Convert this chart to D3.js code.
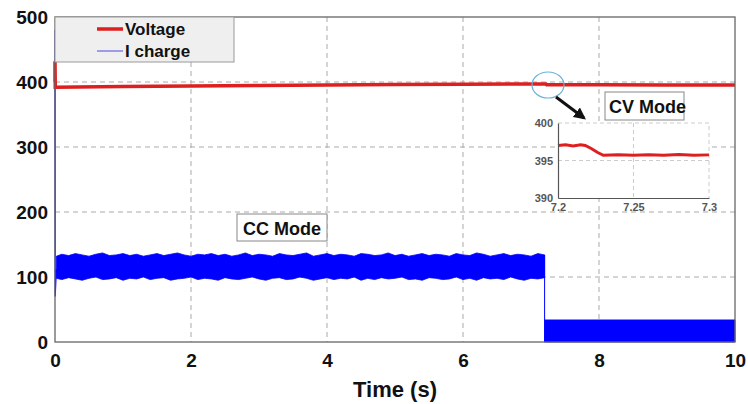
<!DOCTYPE html>
<html>
<head>
<meta charset="utf-8">
<script src="https://cdn.jsdelivr.net/npm/d3@7/dist/d3.min.js"></script>
<style>
  body { margin: 0; background: #fff; }
  svg text { font-family: "Liberation Sans", Arial, sans-serif; font-weight: bold; }
</style>
</head>
<body>
<script>
// values
var xTicks = [0, 2, 4, 6, 8, 10];
var yTicks = [0, 100, 200, 300, 400, 500];

// charging voltage (V)
var voltTime = [0, 0, 0.004, 1, 2, 3, 4, 5, 6, 7, 7.2, 7.22, 7.23, 8, 9, 10];
var voltValue = [400, 432, 392, 393, 394, 394.8, 395.5, 396, 396.5, 397, 397, 397, 395.7, 395.6, 395.5, 395.5];

// charging current, start-up transient
var curStartTime = [0, 0.003, 0.02];
var curStartValue = [480, 70, 112];

// CC mode ripple band (envelope)
var bandTime = [0.02, 0.1, 0.2, 0.3, 0.4, 0.5, 0.6, 0.7, 0.8, 0.9,
                1.0, 1.1, 1.2, 1.3, 1.4, 1.5, 1.6, 1.7, 1.8, 1.9,
                2.0, 2.1, 2.2, 2.3, 2.4, 2.5, 2.6, 2.7, 2.8, 2.9,
                3.0, 3.1, 3.2, 3.3, 3.4, 3.5, 3.6, 3.7, 3.8, 3.9,
                4.0, 4.1, 4.2, 4.3, 4.4, 4.5, 4.6, 4.7, 4.8, 4.9,
                5.0, 5.1, 5.2, 5.3, 5.4, 5.5, 5.6, 5.7, 5.8, 5.9,
                6.0, 6.1, 6.2, 6.3, 6.4, 6.5, 6.6, 6.7, 6.8, 6.9,
                7.0, 7.1, 7.2];
var bandUpper = [132, 135, 133, 136, 134, 132, 135, 137, 133, 134,
                 136, 133, 135, 132, 134, 136, 133, 135, 137, 134,
                 132, 135, 134, 136, 133, 135, 132, 134, 137, 133,
                 135, 134, 132, 136, 134, 133, 135, 137, 132, 134,
                 136, 133, 135, 134, 132, 136, 135, 133, 134, 137,
                 133, 135, 132, 134, 136, 133, 135, 134, 132, 136,
                 134, 133, 137, 135, 132, 134, 136, 133, 135, 134,
                 132, 136, 134];
var bandLower = [98, 96, 99, 97, 95, 98, 100, 96, 97, 99,
                 95, 98, 97, 100, 96, 98, 99, 95, 97, 98,
                 100, 96, 98, 97, 95, 99, 97, 96, 98, 100,
                 97, 95, 98, 99, 96, 97, 100, 98, 95, 97,
                 99, 96, 98, 97, 100, 95, 98, 96, 99, 97,
                 98, 100, 96, 97, 95, 99, 98, 96, 97, 100,
                 96, 98, 95, 99, 97, 98, 96, 100, 97, 95,
                 98, 97, 99];

// CV mode: current ripple between 0 and this value
var cvTime = [7.2, 10];
var cvUpper = [34, 34];
var cvLower = [0, 0];

// inset: zoom around the mode switch
var insetXTicks = [7.2, 7.25, 7.3];
var insetYTicks = [390, 395, 400];
var insetTime = [7.2, 7.205, 7.21, 7.215, 7.218, 7.222, 7.226, 7.23, 7.24, 7.25, 7.26, 7.27, 7.28, 7.29, 7.3];
var insetValue = [397.0, 397.1, 396.95, 397.1, 397.0, 396.6, 396.1, 395.7, 395.75, 395.7, 395.75, 395.7, 395.8, 395.7, 395.75];

var W = 748, H = 404;
var margin = {top: 17, right: 13, bottom: 62, left: 55};
var width = W - margin.left - margin.right,
    height = H - margin.top - margin.bottom;

var svg = d3.select("body").append("svg")
    .attr("width", W)
    .attr("height", H);

var g = svg.append("g")
    .attr("transform", "translate(" + margin.left + "," + margin.top + ")");

var x = d3.scaleLinear().domain([0, 10]).range([0, width]);
var y = d3.scaleLinear().domain([0, 500]).range([height, 0]);

// grid
g.append("g").selectAll("line")
    .data(xTicks.slice(1, -1))
    .enter().append("line")
    .attr("x1", function(d) { return x(d); })
    .attr("x2", function(d) { return x(d); })
    .attr("y1", 0).attr("y2", height)
    .attr("stroke", "#aaa").attr("stroke-dasharray", "5,4");
g.append("g").selectAll("line")
    .data(yTicks.slice(1, -1))
    .enter().append("line")
    .attr("y1", function(d) { return y(d); })
    .attr("y2", function(d) { return y(d); })
    .attr("x1", 0).attr("x2", width)
    .attr("stroke", "#aaa").attr("stroke-dasharray", "5,4");

// current
var band = d3.area()
    .x(function(d) { return x(d[0]); })
    .y0(function(d) { return y(d[1]); })
    .y1(function(d) { return y(d[2]); });

g.append("path")
    .attr("d", band(d3.zip(bandTime, bandLower, bandUpper)))
    .attr("fill", "#0000ff")
    .attr("stroke", "#0000ff").attr("stroke-width", 0.8);

g.append("path")
    .attr("d", band(d3.zip(cvTime, cvLower, cvUpper)))
    .attr("fill", "#0000ff")
    .attr("stroke", "#0000ff").attr("stroke-width", 0.8);

var line = d3.line()
    .x(function(d) { return x(d[0]); })
    .y(function(d) { return y(d[1]); });

g.append("path")
    .attr("d", line(d3.zip(curStartTime, curStartValue)))
    .attr("fill", "none").attr("stroke", "#0000ff").attr("stroke-width", 1.2);

// drop at the mode switch
g.append("path")
    .attr("d", line([[bandTime[bandTime.length - 1], bandUpper[bandUpper.length - 1]], [cvTime[0], 0]]))
    .attr("fill", "none").attr("stroke", "#0000ff").attr("stroke-width", 1);

// voltage
g.append("path")
    .attr("d", line(d3.zip(voltTime, voltValue)))
    .attr("fill", "none").attr("stroke", "#dd1f1f").attr("stroke-width", 3.5);

// frame
g.append("rect")
    .attr("width", width).attr("height", height)
    .attr("fill", "none").attr("stroke", "#666").attr("stroke-width", 1.3);

// axes
var xAxis = g.append("g")
    .attr("transform", "translate(0," + height + ")")
    .call(d3.axisBottom(x).tickValues(xTicks).tickSize(0).tickPadding(12));
var yAxis = g.append("g")
    .call(d3.axisLeft(y).tickValues(yTicks).tickSize(0).tickPadding(7));
[xAxis, yAxis].forEach(function(a) {
  a.select(".domain").remove();
  a.selectAll("text").attr("font-size", 19).attr("fill", "#111")
      .style("font-family", "Liberation Sans, Arial, sans-serif").style("font-weight", "bold");
});

svg.append("text")
    .attr("x", margin.left + width / 2).attr("y", 397)
    .attr("text-anchor", "middle")
    .attr("font-size", 22).attr("fill", "#111")
    .text("Time (s)");

// legend
var leg = g.append("g");
leg.append("rect")
    .attr("width", 179).attr("height", 45)
    .attr("fill", "#efefef").attr("stroke", "#999");
leg.append("line").attr("x1", 42).attr("x2", 68).attr("y1", 12).attr("y2", 12)
    .attr("stroke", "#dd1f1f").attr("stroke-width", 3.5);
leg.append("text").attr("x", 70).attr("y", 18).attr("font-size", 17).attr("fill", "#111").text("Voltage");
leg.append("line").attr("x1", 42).attr("x2", 68).attr("y1", 34).attr("y2", 34)
    .attr("stroke", "#4a4ae0").attr("stroke-width", 1);
leg.append("text").attr("x", 70).attr("y", 40).attr("font-size", 17).attr("fill", "#111").text("I charge");

// mode labels
function labelBox(x0, y0, w, h, txt, tx, ty) {
  svg.append("rect").attr("x", x0).attr("y", y0).attr("width", w).attr("height", h)
      .attr("fill", "#fff").attr("stroke", "#888");
  svg.append("text").attr("x", tx).attr("y", ty).attr("font-size", 18).attr("fill", "#111").text(txt);
}
labelBox(237, 214, 90, 27, "CC Mode", 243, 235);
labelBox(605, 92, 79, 28, "CV Mode", 609, 113);

// highlight ring + arrow
svg.append("ellipse")
    .attr("cx", 548).attr("cy", 85).attr("rx", 16).attr("ry", 13)
    .attr("fill", "none").attr("stroke", "#6ab4d8").attr("stroke-width", 1.2);
svg.append("defs").append("marker")
    .attr("id", "head").attr("viewBox", "0 0 10 10")
    .attr("refX", 8).attr("refY", 5)
    .attr("markerWidth", 4).attr("markerHeight", 4)
    .attr("orient", "auto")
  .append("path").attr("d", "M0,0 L10,5 L0,10 z").attr("fill", "#111");
svg.append("line")
    .attr("x1", 556).attr("y1", 97).attr("x2", 584).attr("y2", 118)
    .attr("stroke", "#111").attr("stroke-width", 3)
    .attr("marker-end", "url(#head)");

// inset
var ix = d3.scaleLinear().domain([7.2, 7.3]).range([558, 709]);
var iy = d3.scaleLinear().domain([390, 400]).range([198, 123]);
var ins = svg.append("g");
ins.append("rect")
    .attr("x", 558).attr("y", 123).attr("width", 151).attr("height", 75)
    .attr("fill", "#fff");
ins.append("line").attr("x1", ix(7.25)).attr("x2", ix(7.25)).attr("y1", 123).attr("y2", 198)
    .attr("stroke", "#ccc").attr("stroke-dasharray", "4,3");
ins.append("line").attr("x1", 558).attr("x2", 709).attr("y1", iy(395)).attr("y2", iy(395))
    .attr("stroke", "#ccc").attr("stroke-dasharray", "4,3");
ins.append("path")
    .attr("d", "M558,123 H709 V198")
    .attr("fill", "none").attr("stroke", "#ccc").attr("stroke-dasharray", "4,3");

var iline = d3.line()
    .x(function(d) { return ix(d[0]); })
    .y(function(d) { return iy(d[1]); });
ins.append("path")
    .attr("d", iline(d3.zip(insetTime, insetValue)))
    .attr("fill", "none").attr("stroke", "#dd1f1f").attr("stroke-width", 3);

var ixAxis = ins.append("g").attr("transform", "translate(0,198)")
    .call(d3.axisBottom(ix).tickValues(insetXTicks).tickSize(0).tickPadding(5).tickFormat(d3.format("")));
var iyAxis = ins.append("g").attr("transform", "translate(558,0)")
    .call(d3.axisLeft(iy).tickValues(insetYTicks).tickSize(0).tickPadding(5));
[ixAxis, iyAxis].forEach(function(a) {
  a.select(".domain").attr("stroke", "#555").attr("stroke-width", 1.2);
  a.selectAll("text").attr("font-size", 11).attr("fill", "#555")
      .style("font-family", "Liberation Sans, Arial, sans-serif").style("font-weight", "bold");
});
</script>
</body>
</html>
